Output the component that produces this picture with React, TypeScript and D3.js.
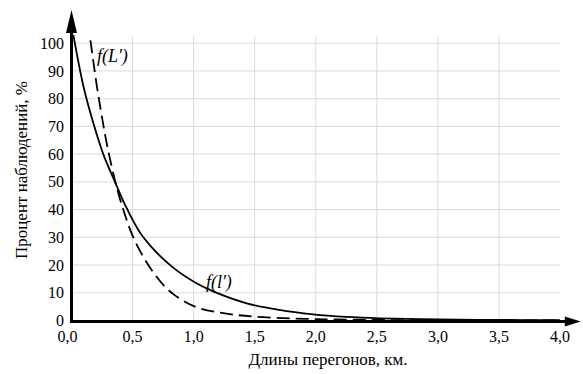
import * as d3 from 'd3'

// distance, km
const X_TICKS = [0, 0.5, 1, 1.5, 2, 2.5, 3, 3.5, 4]
const Y_TICKS = [0, 10, 20, 30, 40, 50, 60, 70, 80, 90, 100]

// f(l') — solid curve
const SOLID_X = [0.015, 0.1, 0.18, 0.26, 0.356, 0.452, 0.588, 0.82, 1.02, 1.16, 1.435, 1.7, 1.978, 2.25, 2.527, 3.0, 3.5, 4.0]
const SOLID_Y = [103, 84, 71, 60, 50, 40.5, 30, 19.5, 13.5, 10.5, 6.2, 3.8, 2.2, 1.3, 0.8, 0.4, 0.2, 0.1]

// f(L') — dashed curve
const DASH_X = [0.155, 0.206, 0.247, 0.288, 0.356, 0.424, 0.506, 0.629, 0.752, 0.834, 0.943, 1.05, 1.297, 1.57, 2.0, 2.5, 3.0, 4.0]
const DASH_Y = [101, 85, 74, 64, 50.5, 40, 30, 20, 12.8, 9.5, 6.4, 4.4, 2.3, 1.2, 0.5, 0.2, 0.1, 0.05]

const W = 583
const H = 374
const FONT = '"Liberation Serif", serif'

export default function App() {
  const x = d3.scaleLinear().domain([0, 4]).range([71.5, 560])
  const y = d3.scaleLinear().domain([0, 100]).range([320.5, 43.2])

  const line = d3.line<[number, number]>()
    .x(d => x(d[0]))
    .y(d => y(d[1]))
    .curve(d3.curveCatmullRom.alpha(0.5))

  const solid = line(SOLID_X.map((v, i) => [v, SOLID_Y[i]]))
  const dashed = line(DASH_X.map((v, i) => [v, DASH_Y[i]]))

  const x0 = x(0)
  const y0 = y(0) + 1
  const yTop = y(112)
  const xEnd = x(4.17)
  const gridTop = y(102.5)

  return (
    <svg width={W} height={H} style={{ position: 'absolute', left: 0, top: 0, background: '#fff' }}>
      {/* grid */}
      <g stroke="#d9d9d9" strokeWidth={1}>
        {X_TICKS.slice(1, -1).map(t => (
          <line key={'gx' + t} x1={x(t)} x2={x(t)} y1={gridTop} y2={y0} />
        ))}
        {Y_TICKS.slice(1).map(t => (
          <line key={'gy' + t} x1={x0} x2={x(4)} y1={y(t)} y2={y(t)} />
        ))}
      </g>

      {/* curves */}
      <path d={dashed ?? ''} fill="none" stroke="#000" strokeWidth={1.8} strokeDasharray="13 6" />
      <path d={solid ?? ''} fill="none" stroke="#000" strokeWidth={1.8} />

      {/* axes */}
      <line x1={x0} x2={x0} y1={y0 + 1.5} y2={yTop + 12} stroke="#000" strokeWidth={3} />
      <polygon points={`${x0},${yTop} ${x0 - 5.5},${yTop + 23} ${x0 + 5.5},${yTop + 23}`} fill="#000" />
      <line x1={x0 - 1.5} x2={xEnd - 10} y1={y0} y2={y0} stroke="#000" strokeWidth={3} />
      <polygon points={`${xEnd},${y0} ${xEnd - 16},${y0 - 5} ${xEnd - 16},${y0 + 5}`} fill="#000" />

      {/* tick labels */}
      <g fontFamily={FONT} fontSize={16} fill="#000">
        {Y_TICKS.map(t => (
          <text key={'ty' + t} x={64} y={y(t)} dy="0.35em" textAnchor="end">{t}</text>
        ))}
        {X_TICKS.map(t => (
          <text key={'tx' + t} x={x(t) - (t === 0 ? 4 : 0)} y={342} textAnchor="middle">
            {t.toFixed(1).replace('.', ',')}
          </text>
        ))}
      </g>

      {/* axis titles */}
      <text x={328} y={365} textAnchor="middle" fontFamily={FONT} fontSize={17}>Длины перегонов, км.</text>
      <text transform="translate(27,170) rotate(-90)" textAnchor="middle" fontFamily={FONT} fontSize={17}>
        Процент наблюдений, %
      </text>

      {/* curve labels */}
      <text x={97} y={62} fontFamily={FONT} fontSize={18} fontStyle="italic">f(L')</text>
      <text x={206} y={288} fontFamily={FONT} fontSize={18} fontStyle="italic">f(l')</text>
    </svg>
  )
}
